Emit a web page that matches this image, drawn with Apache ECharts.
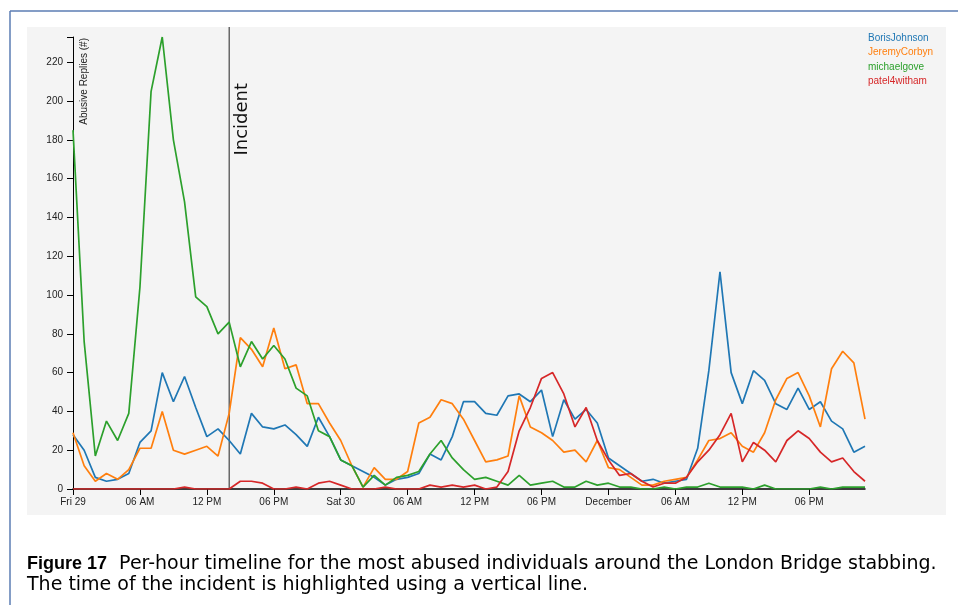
<!DOCTYPE html>
<html>
<head>
<meta charset="utf-8">
<script src="https://cdn.jsdelivr.net/npm/echarts@6/dist/echarts.min.js"></script>
<style>
html,body{margin:0;padding:0;background:#fff;}
#chart{width:958px;height:605px;}
</style>
</head>
<body>
<div id="chart"></div>
<script>
// ---- data ----
const tickLabels = ['Fri 29','06 AM','12 PM','06 PM','Sat 30','06 AM','12 PM','06 PM','December','06 AM','12 PM','06 PM'];
const seriesNames = ['BorisJohnson','JeremyCorbyn','michaelgove','patel4witham'];
const incidentHour = 14;
const borisJohnson = [28,20,6,4,5,8,24,30,60,45,58,42,27,31,25,18,39,32,31,33,28,22,37,27,15,12,9,6,2,5,6,8,18,15,27,45,45,39,38,48,49,45,51,27,46,36,41,34,16,12,8,4,5,3,4,5,21,61,112,60,44,61,56,44,41,52,41,45,35,31,19,22];
const jeremyCorbyn = [29,12,4,8,5,10,21,21,40,20,18,20,22,17,39,78,72,63,83,62,64,44,44,34,25,12,1,11,5,5,9,34,37,46,44,36,25,14,15,17,48,32,29,25,19,20,14,25,11,10,6,2,2,4,5,6,15,25,26,29,22,19,29,46,57,60,48,32,62,71,65,36];
const michaelGove = [185,76,17,35,25,39,104,205,233,180,148,99,94,80,86,63,76,67,74,67,52,48,30,27,15,12,1,7,2,6,7,9,18,25,16,10,5,6,4,2,7,2,3,4,1,1,4,2,3,1,1,0,0,1,0,1,1,3,1,1,1,0,2,0,0,0,0,1,0,1,1,1];
const patel4witham = [0,0,0,0,0,0,0,0,0,0,1,0,0,0,0,4,4,3,0,0,1,0,3,4,2,0,0,0,1,0,0,0,2,1,2,1,2,0,1,9,30,42,57,60,49,32,42,25,15,7,8,4,1,3,3,6,14,20,28,39,14,24,20,14,25,30,26,19,14,16,9,4];
const allSeries = [borisJohnson, jeremyCorbyn, michaelGove, patel4witham];
const colors = ['#1f77b4','#ff7f0e','#2ca02c','#d62728'];

const chart = echarts.init(document.getElementById('chart'));
const FONT = 'Liberation Sans, Arial, sans-serif';

const series = allSeries.map((vals, si) => ({
  name: seriesNames[si],
  type: 'line',
  symbol: 'none',
  animation: false,
  data: vals.map((v, i) => [i, v]),
  lineStyle: { color: colors[si], width: 1.7 },
  itemStyle: { color: colors[si] },
  z: 3 + si
}));

const option = {
  animation: false,
  backgroundColor: '#ffffff',
  grid: { left: 73, right: 93, top: 37, bottom: 116 },
  legend: {
    orient: 'vertical',
    left: 858,
    top: 28,
    icon: 'none',
    itemWidth: 0,
    itemHeight: 10,
    itemGap: 4.5,
    selectedMode: false,
    textStyle: { fontFamily: FONT, fontSize: 10 },
    data: seriesNames.map((n, i) => ({ name: n, textStyle: { color: colors[i] } }))
  },
  xAxis: {
    type: 'value',
    min: 0,
    max: 71,
    interval: 6,
    splitLine: { show: false },
    axisLine: { lineStyle: { color: '#000', width: 1.5 } },
    axisTick: { lineStyle: { color: '#000' }, length: 6 },
    axisLabel: {
      color: '#222', fontFamily: FONT, fontSize: 10, margin: 8,
      showMaxLabel: false,
      formatter: v => (v % 6 === 0 ? tickLabels[v / 6] : '')
    }
  },
  yAxis: {
    type: 'value',
    min: 0,
    max: 233,
    interval: 20,
    splitLine: { show: false },
    axisLine: { show: true, lineStyle: { color: '#000', width: 1 } },
    axisTick: { show: true, lineStyle: { color: '#000' }, length: 6 },
    axisLabel: {
      color: '#222', fontFamily: FONT, fontSize: 10, margin: 10,
      formatter: v => (v % 20 === 0 ? String(v) : '')
    }
  },
  series: series
};
chart.setOption(option);

const pInc = chart.convertToPixel({ xAxisIndex: 0, yAxisIndex: 0 }, [incidentHour, 0]);
const pAxis = chart.convertToPixel({ xAxisIndex: 0, yAxisIndex: 0 }, [0, 233]);

chart.setOption({
  graphic: [
    { type: 'rect', z: -10, silent: true, shape: { x: 27, y: 27, width: 919, height: 488 }, style: { fill: '#f4f4f4' } },
    { type: 'line', z: -5, silent: true, shape: { x1: 10, y1: 11, x2: 958, y2: 11 }, style: { stroke: '#5b7db3', lineWidth: 1.5 } },
    { type: 'line', z: -5, silent: true, shape: { x1: 10, y1: 11, x2: 10, y2: 605 }, style: { stroke: '#5b7db3', lineWidth: 1.5 } },
    { type: 'line', z: 2, silent: true, shape: { x1: pInc[0], y1: 27, x2: pInc[0], y2: pInc[1] }, style: { stroke: '#222', lineWidth: 1 } },
    { type: 'text', z: 10, silent: true, x: pAxis[0] + 11, y: pAxis[1] + 1, rotation: Math.PI / 2,
      style: { text: 'Abusive Replies (#)', fill: '#222', font: '10px ' + FONT, align: 'right', verticalAlign: 'middle' } },
    { type: 'text', z: 10, silent: true, x: pInc[0] + 13, y: 83, rotation: Math.PI / 2,
      style: { text: 'Incident', fill: '#111', font: '18px DejaVu Sans, sans-serif', align: 'right', verticalAlign: 'middle' } },
    { type: 'text', z: 10, silent: true, x: 27, y: 575,
      style: {
        text: '{b|Figure 17}{r|  Per-hour timeline for the most abused individuals around the London Bridge stabbing.}\n{r|The time of the incident is highlighted using a vertical line.}',
        fill: '#000', verticalAlign: 'middle',
        rich: {
          b: { fontWeight: 'bold', fontSize: 18, fontFamily: FONT, fill: '#000', lineHeight: 21 },
          r: { fontSize: 19, fontFamily: 'DejaVu Sans, sans-serif', fill: '#000', lineHeight: 21 }
        }
      } }
  ]
});
</script>
</body>
</html>
